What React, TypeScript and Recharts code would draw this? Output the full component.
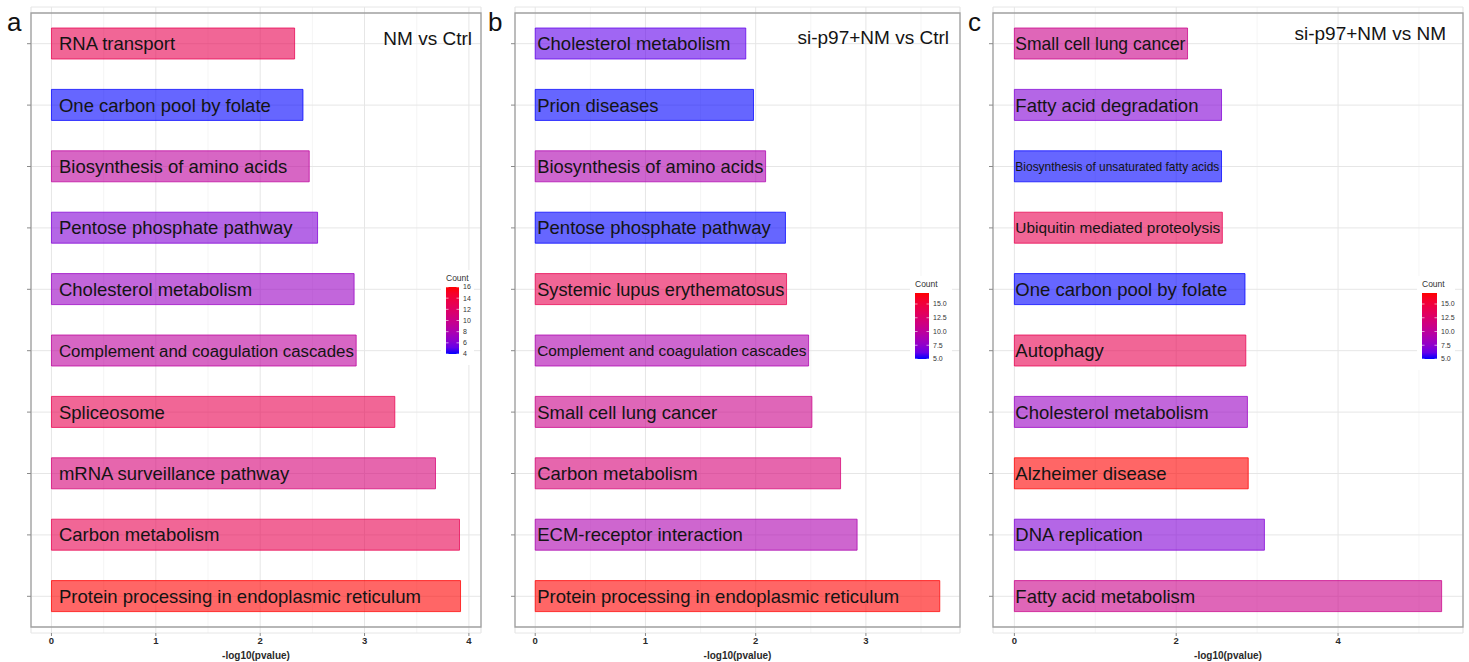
import React from 'react';
import { BarChart, Bar, XAxis, YAxis, CartesianGrid, Cell, LabelList, ReferenceArea } from 'recharts';

// ---------- data ----------
const aTerms = ['RNA transport', 'One carbon pool by folate', 'Biosynthesis of amino acids', 'Pentose phosphate pathway', 'Cholesterol metabolism', 'Complement and coagulation cascades', 'Spliceosome', 'mRNA surveillance pathway', 'Carbon metabolism', 'Protein processing in endoplasmic reticulum'];
const aLogP = [2.33, 2.41, 2.47, 2.55, 2.9, 2.92, 3.29, 3.68, 3.91, 3.92];
const aCounts = [13, 4, 9, 6, 7, 9, 13, 11, 13, 16];
const aCountRange = [4, 16];
const aCountTicks = [4, 6, 8, 10, 12, 14, 16];
const aXTicks = [0, 1, 2, 3, 4];
const aXMinor = [0.5, 1.5, 2.5, 3.5];

const bTerms = ['Cholesterol metabolism', 'Prion diseases', 'Biosynthesis of amino acids', 'Pentose phosphate pathway', 'Systemic lupus erythematosus', 'Complement and coagulation cascades', 'Small cell lung cancer', 'Carbon metabolism', 'ECM-receptor interaction', 'Protein processing in endoplasmic reticulum'];
const bLogP = [1.91, 1.98, 2.09, 2.27, 2.28, 2.48, 2.51, 2.77, 2.92, 3.67];
const bCounts = [6, 5, 9, 5, 14, 9, 11, 12, 9, 17];
const bCountRange = [5, 17];
const bCountTicks = [5, 7.5, 10, 12.5, 15];
const bXTicks = [0, 1, 2, 3];
const bXMinor = [0.5, 1.5, 2.5, 3.5];

const cTerms = ['Small cell lung cancer', 'Fatty acid degradation', 'Biosynthesis of unsaturated fatty acids', 'Ubiquitin mediated proteolysis', 'One carbon pool by folate', 'Autophagy', 'Cholesterol metabolism', 'Alzheimer disease', 'DNA replication', 'Fatty acid metabolism'];
const cLogP = [2.14, 2.56, 2.56, 2.57, 2.85, 2.86, 2.88, 2.89, 3.09, 5.28];
const cCounts = [11, 7, 5, 14, 5, 14, 8, 17, 7, 11];
const cCountRange = [5, 17];
const cCountTicks = [5, 7.5, 10, 12.5, 15];
const cXTicks = [0, 2, 4];
const cXMinor = [1, 3, 5];

const panelLetters = ['a', 'b', 'c'];
const panelTitles = ['NM vs Ctrl', 'si-p97+NM vs Ctrl', 'si-p97+NM vs NM'];

// ---------- colour (Lab interpolation, like ggplot) ----------
const FONT = "'Liberation Sans', Arial, sans-serif";
function toLin(c: number) { c /= 255; return c <= 0.04045 ? c / 12.92 : Math.pow((c + 0.055) / 1.055, 2.4); }
function fromLin(c: number) { const v = c <= 0.0031308 ? 12.92 * c : 1.055 * Math.pow(c, 1 / 2.4) - 0.055; return Math.max(0, Math.min(255, Math.round(v * 255))); }
function rgbToLab(rgb: number[]) {
  const [r, g, b] = rgb.map(toLin);
  const X = (0.4124564 * r + 0.3575761 * g + 0.1804375 * b) / 0.95047;
  const Y = 0.2126729 * r + 0.7151522 * g + 0.072175 * b;
  const Z = (0.0193339 * r + 0.119192 * g + 0.9503041 * b) / 1.08883;
  const f = (t: number) => (t > 0.008856 ? Math.cbrt(t) : 7.787 * t + 16 / 116);
  const fx = f(X), fy = f(Y), fz = f(Z);
  return [116 * fy - 16, 500 * (fx - fy), 200 * (fy - fz)];
}
function labToHex(lab: number[]) {
  const [L, a, bb] = lab;
  const fy = (L + 16) / 116, fx = fy + a / 500, fz = fy - bb / 200;
  const inv = (f: number) => (f * f * f > 0.008856 ? f * f * f : (f - 16 / 116) / 7.787);
  const X = inv(fx) * 0.95047, Y = inv(fy), Z = inv(fz) * 1.08883;
  const r = 3.2404542 * X - 1.5371385 * Y - 0.4985314 * Z;
  const g = -0.969266 * X + 1.8760108 * Y + 0.041556 * Z;
  const b = 0.0556434 * X - 0.2040259 * Y + 1.0572252 * Z;
  return '#' + [r, g, b].map(fromLin).map((v) => v.toString(16).padStart(2, '0')).join('');
}
const LOW = rgbToLab([0, 0, 255]);
const HIGH = rgbToLab([255, 0, 0]);
function countColor(v: number, range: number[]) {
  const t = Math.max(0, Math.min(1, (v - range[0]) / (range[1] - range[0])));
  return labToHex(LOW.map((l, i) => l + (HIGH[i] - l) * t));
}

// ---------- text measuring ----------
let ctx: CanvasRenderingContext2D | null = null;
function measure(text: string, size: number) {
  if (!ctx) ctx = document.createElement('canvas').getContext('2d');
  if (!ctx) return text.length * size * 0.5;
  ctx.font = `${size}px ${FONT}`;
  return ctx.measureText(text).width;
}

type PanelProps = {
  terms: string[]; logp: number[]; counts: number[]; countRange: number[];
  xTicks: number[]; xMinor: number[];
  left: number; width: number; yAxisWidth: number; marginRight: number; inset: number;
};

function Panel(p: PanelProps) {
  const data = p.terms.map((term, i) => ({ term, value: p.logp[i], count: p.counts[i] }));
  const maxV = Math.max(...p.logp);
  const domain: [number, number] = [-maxV * 0.05, maxV * 1.05];
  const renderLabel = (props: any) => {
    const x = Number(props.x), y = Number(props.y), w = Number(props.width), h = Number(props.height);
    const text = String(props.value);
    const base = 18.5;
    const avail = w - p.inset - 2;
    const tw = measure(text, base);
    const size = tw > avail ? (base * avail) / tw : base;
    return (
      <text x={x + p.inset} y={y + h / 2} dy="0.36em" fontSize={size} fontFamily={FONT} fill="#141414">
        {text}
      </text>
    );
  };
  return (
    <div style={{ position: 'absolute', left: p.left, top: 0 }}>
      <BarChart
        width={p.width}
        height={662}
        data={data}
        layout="vertical"
        margin={{ top: 7, right: p.marginRight, bottom: 0, left: 0 }}
        barCategoryGap={0}
      >
        <XAxis xAxisId="minor" type="number" domain={domain} ticks={p.xMinor} allowDataOverflow hide />
        <CartesianGrid xAxisId="minor" horizontal={false} stroke="#f3f3f3" strokeWidth={0.8} />
        <CartesianGrid stroke="#e6e6e6" strokeWidth={1} />
        <XAxis
          type="number"
          dataKey="value"
          domain={domain}
          ticks={p.xTicks}
          allowDataOverflow
          height={29}
          axisLine={false}
          tickSize={3}
          tickMargin={1}
          tickLine={{ stroke: '#8a8a8a' }}
          tick={{ fontSize: 9.5, fontWeight: 'bold', fill: '#2a2a2a', fontFamily: FONT }}
          interval={0}
          label={{ value: '-log10(pvalue)', position: 'insideBottom', offset: 3, style: { fontSize: 10, fontWeight: 'bold', fill: '#2a2a2a', fontFamily: FONT } }}
        />
        <YAxis
          type="category"
          dataKey="term"
          width={p.yAxisWidth}
          axisLine={false}
          tickSize={4}
          tickLine={{ stroke: '#8a8a8a' }}
          tick={() => <g />}
          padding={{ top: 6, bottom: 6 }}
          interval={0}
        />
        <Bar dataKey="value" barSize={31} isAnimationActive={false}>
          {data.map((d, i) => {
            const col = countColor(d.count, p.countRange);
            return <Cell key={i} fill={col} fillOpacity={0.6} stroke={col} strokeOpacity={0.75} strokeWidth={1} />;
          })}
          <LabelList dataKey="term" content={renderLabel} />
        </Bar>
        <ReferenceArea x1={domain[0]} x2={domain[1]} fill="none" fillOpacity={0} stroke="#a0a0a0" strokeWidth={1.3} ifOverflow="visible" />
      </BarChart>
    </div>
  );
}

type LegendSpec = { x: number; top: number; bottom: number; w: number; boxW: number; range: number[]; ticks: number[]; dec: boolean; id: string };

function Legend({ s }: { s: LegendSpec }) {
  const stops = Array.from({ length: 11 }, (_, i) => i / 10);
  const yOf = (v: number) => s.bottom - ((v - s.range[0]) / (s.range[1] - s.range[0])) * (s.bottom - s.top);
  return (
    <g>
      <rect x={s.x - 5} y={s.top - 17} width={s.boxW} height={s.bottom - s.top + 28} fill="#ffffff" />
      <defs>
        <linearGradient id={s.id} x1="0" y1="1" x2="0" y2="0">
          {stops.map((t) => (
            <stop key={t} offset={t} stopColor={countColor(s.range[0] + t * (s.range[1] - s.range[0]), s.range)} />
          ))}
        </linearGradient>
      </defs>
      <text x={s.x} y={s.top - 6} fontSize={8.5} fill="#333" fontFamily={FONT}>Count</text>
      <rect x={s.x} y={s.top} width={s.w} height={s.bottom - s.top} fill={`url(#${s.id})`} />
      {s.ticks.map((t) => (
        <g key={t}>
          <line x1={s.x} x2={s.x + 2.5} y1={yOf(t)} y2={yOf(t)} stroke="#fff" strokeWidth={0.6} />
          <line x1={s.x + s.w - 2.5} x2={s.x + s.w} y1={yOf(t)} y2={yOf(t)} stroke="#fff" strokeWidth={0.6} />
          <text x={s.x + s.w + 4} y={yOf(t)} dy="0.35em" fontSize={7} fill="#333" fontFamily={FONT}>
            {s.dec ? t.toFixed(1) : String(t)}
          </text>
        </g>
      ))}
    </g>
  );
}

export default function App() {
  const legends: LegendSpec[] = [
    { x: 446, top: 287, bottom: 354, w: 13, boxW: 33, range: aCountRange, ticks: aCountTicks, dec: false, id: 'ga' },
    { x: 915, top: 293, bottom: 359, w: 14, boxW: 42, range: bCountRange, ticks: bCountTicks, dec: true, id: 'gb' },
    { x: 1422, top: 293, bottom: 359, w: 15, boxW: 38, range: cCountRange, ticks: cCountTicks, dec: true, id: 'gc' },
  ];
  const letterX = [7, 488, 968];
  const titleRight = [472, 949, 1446];
  const titleY = [38, 37, 33];
  return (
    <div style={{ position: 'absolute', left: 0, top: 0, width: 1469, height: 662, background: '#fff', overflow: 'hidden' }}>
      <Panel terms={aTerms} logp={aLogP} counts={aCounts} countRange={aCountRange} xTicks={aXTicks} xMinor={aXMinor}
        left={0} width={490} yAxisWidth={31} marginRight={9} inset={7.5} />
      <Panel terms={bTerms} logp={bLogP} counts={bCounts} countRange={bCountRange} xTicks={bXTicks} xMinor={bXMinor}
        left={490} width={480} yAxisWidth={25} marginRight={10} inset={2} />
      <Panel terms={cTerms} logp={cLogP} counts={cCounts} countRange={cCountRange} xTicks={cXTicks} xMinor={cXMinor}
        left={970} width={499} yAxisWidth={23} marginRight={6} inset={1} />
      <svg width={1469} height={662} style={{ position: 'absolute', left: 0, top: 0, pointerEvents: 'none' }}>
        {legends.map((s) => <Legend key={s.id} s={s} />)}
        {panelLetters.map((l, i) => (
          <text key={l} x={letterX[i]} y={22} dy="0.35em" fontSize={26} fill="#111" fontFamily={FONT}>{l}</text>
        ))}
        {panelTitles.map((t, i) => (
          <text key={t} x={titleRight[i]} y={titleY[i]} dy="0.36em" textAnchor="end" fontSize={19} fill="#141414" fontFamily={FONT}>{t}</text>
        ))}
      </svg>
    </div>
  );
}
